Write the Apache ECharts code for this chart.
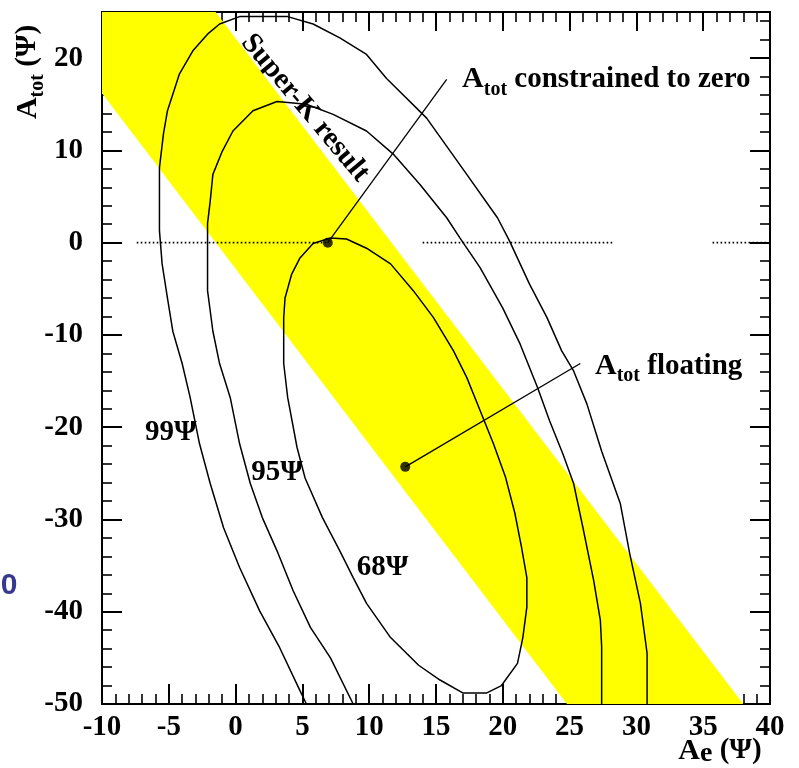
<!DOCTYPE html>
<html><head><meta charset="utf-8">
<script src="https://cdn.jsdelivr.net/npm/echarts@6/dist/echarts.min.js"></script>
<style>html,body{margin:0;padding:0;background:#fff}#c{width:799px;height:768px}</style>
</head><body><div id="c"></div>
<script>
// ---- data ----
const xRange = [-10, 40];
const yRange = [-50, 25];
const xTickLabels = [-10, -5, 0, 5, 10, 15, 20, 25, 30, 35, 40];
const yTickLabels = [-50, -40, -30, -20, -10, 0, 10, 20];

// Super-K band (polygon corners, data units)
const bandPolygon = [[-10, 25], [-1.5, 25], [38, -50], [24.8, -50], [-10, 16.2]];

const contour68 = [[3.6,-8.2],[3.7,-6.0],[4.2,-3.4],[4.8,-1.7],[5.8,-0.1],[7.1,0.5],[8.3,0.4],[9.8,-0.6],[11.6,-2.3],
  [13.3,-5.2],[14.8,-8.1],[16.3,-11.7],[17.3,-14.6],[18.3,-18.2],[19.3,-21.8],[20.2,-25.4],[20.9,-29.3],[21.4,-33.0],
  [21.8,-36.3],[21.8,-39.5],[21.5,-42.8],[21.1,-45.6],[19.9,-48.0],[18.8,-48.8],[17.0,-48.8],[15.3,-47.4],[13.7,-45.8],
  [11.6,-42.8],[9.8,-39.1],[8.8,-36.3],[7.8,-33.4],[6.5,-29.8],[5.2,-25.5],[4.6,-22.2],[3.9,-16.8],[3.6,-13.1],[3.6,-8.2]];

const contour95 = [[8.8,-50],[7.1,-45.0],[5.6,-41.7],[4.3,-37.7],[3.1,-33.4],[2.0,-29.8],[1.1,-26.1],[0.3,-21.8],
  [-0.4,-16.8],[-1.2,-13.1],[-1.7,-9.6],[-2.1,-5.2],[-2.1,-0.9],[-2.1,2.1],[-1.9,4.5],[-1.7,7.4],[-1.0,9.9],[-0.2,12.1],
  [1.3,14.3],[3.1,15.3],[5.3,15.0],[7.3,13.9],[9.8,12.1],[11.8,9.6],[13.8,6.3],[15.8,2.7],[16.8,0.5],[18.3,-2.7],
  [20.0,-7.1],[21.3,-11.0],[22.6,-15.7],[23.5,-19.3],[24.5,-22.9],[25.3,-26.1],[26.0,-30.9],[26.8,-36.6],[27.3,-40.9],
  [27.4,-43.8],[27.4,-50]];

const contour99 = [[5.3,-50],[4.8,-48.5],[3.3,-43.9],[1.8,-39.9],[0.3,-35.2],[-0.9,-30.9],[-1.9,-26.1],[-2.7,-21.8],
  [-3.4,-16.8],[-4.0,-13.1],[-4.7,-9.6],[-5.1,-6.0],[-5.5,-2.3],[-5.7,1.3],[-5.7,5.6],[-5.7,8.1],[-5.4,11.8],[-5.1,14.3],
  [-4.2,18.3],[-3.2,20.8],[-2.1,22.6],[-1.2,23.7],[0.3,24.5],[3.9,24.5],[5.8,23.7],[7.8,22.2],[9.8,20.4],[11.3,17.8],
  [14.3,13.5],[17.3,7.4],[19.6,2.7],[20.5,0.2],[22.0,-4.5],[23.3,-8.1],[24.4,-11.7],[25.3,-13.9],[26.3,-17.5],
  [27.4,-22.6],[28.8,-28.3],[29.5,-33.7],[30.3,-39.1],[30.8,-44.5],[30.8,-50]];

// dotted A_tot = 0 line segments [xStart, xEnd]
const zeroLineSegments = [[-7.4, 6.8], [14.0, 28.3], [35.7, 40]];

const pointConstrained = [6.9, 0];
const pointFloating = [12.7, -24.3];
const leaderConstrainedEnd = [15.8, 17.7];
const leaderFloatingEnd = [25.8, -13.1];

// ---- chart ----
const FONT = '"Liberation Serif","Times New Roman",serif';
const chart = echarts.init(document.getElementById('c'), null, {renderer: 'canvas', width: 799, height: 768});

function mkAxis(kind, pos, interval, len, withLabels, labels) {
  const ax = {
    type: 'value', position: pos,
    min: kind === 'x' ? xRange[0] : yRange[0],
    max: kind === 'x' ? xRange[1] : yRange[1],
    interval: interval,
    axisLine: {show: true, onZero: false, lineStyle: {color: '#000', width: 2}},
    axisTick: {show: true, inside: true, length: len, lineStyle: {color: '#000', width: len > 15 ? 2 : 1.6}},
    splitLine: {show: false},
    axisLabel: {show: false}
  };
  if (withLabels) {
    ax.axisLabel = {
      show: true, margin: kind === 'x' ? 9 : 19,
      fontSize: 29, fontWeight: 'bold', fontFamily: FONT, color: '#000',
      formatter: v => labels.indexOf(v) >= 0 ? String(v) : ''
    };
  }
  return ax;
}

const series = [];
series.push({
  type: 'custom', xAxisIndex: 0, yAxisIndex: 0, data: [0], silent: true, z: 1, clip: true,
  renderItem: (params, api) => ({
    type: 'polygon',
    shape: {points: bandPolygon.map(p => api.coord(p))},
    style: {fill: '#ffff00'}
  })
});
zeroLineSegments.forEach(s => series.push({
  type: 'line', data: [[s[0], 0], [s[1], 0]], symbol: 'none', silent: true, z: 2,
  lineStyle: {color: '#000', width: 1.6, type: [1.6, 2.4]}
}));
[contour99, contour95, contour68].forEach(c => series.push({
  type: 'line', data: c, symbol: 'none', silent: true, z: 3, clip: true,
  lineStyle: {color: '#000', width: 1.5}
}));
[[pointConstrained, leaderConstrainedEnd], [pointFloating, leaderFloatingEnd]].forEach(l => series.push({
  type: 'line', data: l, symbol: 'none', silent: true, z: 4,
  lineStyle: {color: '#000', width: 1.3}
}));
series.push({
  type: 'scatter', data: [pointConstrained, pointFloating], symbol: 'circle', symbolSize: 10,
  itemStyle: {color: '#000'}, z: 5, silent: true
});

chart.setOption({
  animation: false,
  backgroundColor: '#fff',
  grid: {left: 102, right: 29, top: 12, bottom: 64, containLabel: false},
  xAxis: [
    mkAxis('x', 'bottom', 5, 20, true, xTickLabels),
    mkAxis('x', 'bottom', 1, 10, false),
    mkAxis('x', 'top', 5, 19, false),
    mkAxis('x', 'top', 1, 10, false)
  ],
  yAxis: [
    mkAxis('y', 'left', 10, 20, true, yTickLabels),
    mkAxis('y', 'left', 2, 10, false),
    mkAxis('y', 'right', 10, 20, false),
    mkAxis('y', 'right', 2, 10, false)
  ],
  series: series
});

// ---- text helpers ----
const mctx = document.createElement('canvas').getContext('2d');
function textWidth(t, size) {
  mctx.font = 'bold ' + size + 'px ' + FONT;
  return mctx.measureText(t).width;
}
// parts: [text, fontSize, dy]
function composite(x, y, parts, align, rotation) {
  const widths = parts.map(p => textWidth(p[0], p[1]));
  const total = widths.reduce((a, b) => a + b, 0);
  let cx = align === 'center' ? -total / 2 : 0;
  const children = parts.map((p, i) => {
    const el = {
      type: 'text', x: cx, y: p[2],
      style: {text: p[0], fontSize: p[1], fontWeight: 'bold', fontFamily: FONT, fill: '#000',
        align: 'left', verticalAlign: 'middle'}
    };
    cx += widths[i];
    return el;
  });
  return {type: 'group', x: x, y: y, rotation: rotation || 0, z: 100, children: children};
}

// ---- annotations (anchored in data coordinates) ----
const annotations = [
  {parts: [['99Ψ', 29, 0]], at: [-4.85, -20.6], align: 'center'},
  {parts: [['95Ψ', 29, 0]], at: [3.1, -24.9], align: 'center'},
  {parts: [['68Ψ', 29, 0]], at: [11.0, -35.2], align: 'center'},
  {parts: [['A', 30, 0], ['tot', 20, 10], [' constrained to zero', 29, 0]], at: [16.95, 17.7], align: 'left'},
  {parts: [['A', 30, 0], ['tot', 20, 10], [' floating', 29, 0]], at: [26.9, -13.4], align: 'left'},
  {parts: [['Super-K result', 29, 0]], at: [5.2, 14.6], align: 'center', rot: -50}
];
const graphics = annotations.map(a => {
  const p = chart.convertToPixel({xAxisIndex: 0, yAxisIndex: 0}, a.at);
  return composite(p[0], p[1], a.parts, a.align, a.rot ? a.rot * Math.PI / 180 : 0);
});
// axis titles
graphics.push(composite(28, 72, [['A', 30, 0], ['tot', 20, 10], [' (Ψ)', 29, 0]], 'center', Math.PI / 2));
graphics.push(composite(720, 751, [['A', 30, 0], ['e', 28, 3], [' (Ψ)', 29, 0]], 'center', 0));
// stray fragment of neighbouring slide
graphics.push({
  type: 'text', x: 9, y: 586, z: 100,
  style: {text: '0', fontSize: 30, fontWeight: 'bold', fontFamily: '"Liberation Sans",Arial,sans-serif',
    fill: '#38388f', align: 'center', verticalAlign: 'middle'}
});
chart.setOption({graphic: graphics});
</script>
</body></html>
